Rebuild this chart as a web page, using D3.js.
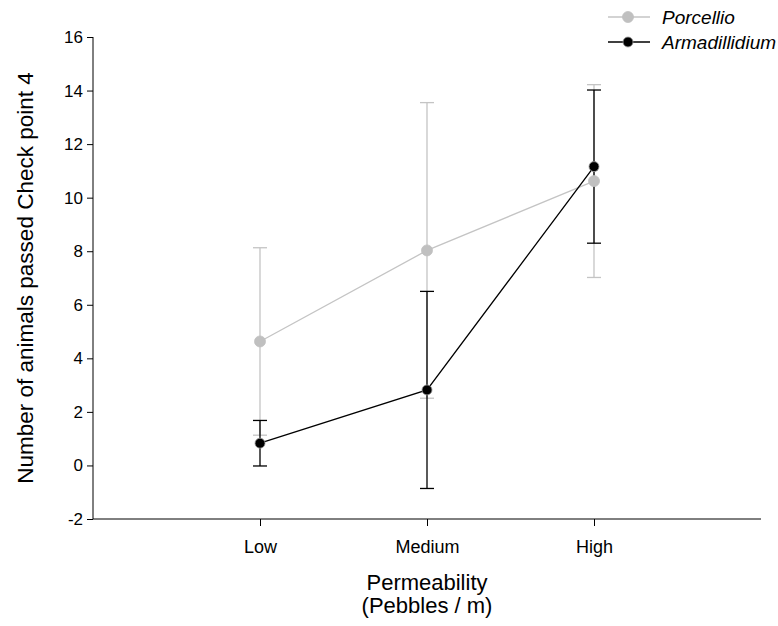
<!DOCTYPE html>
<html><head><meta charset="utf-8">
<script src="https://cdn.jsdelivr.net/npm/d3@7"></script>
<style>body{margin:0;background:#fff;} svg{display:block;} text{font-family:"Liberation Sans",Arial,sans-serif;}</style>
</head><body>
<svg id="c" width="778" height="626"></svg>
<script>
const categories = ["Low", "Medium", "High"];
const yTicks = [-2, 0, 2, 4, 6, 8, 10, 12, 14, 16];
const porcellioMean = [4.63, 8.03, 10.62];
const porcellioErr = [3.5, 5.52, 3.6];
const armadillidiumMean = [0.83, 2.82, 11.16];
const armadillidiumErr = [0.85, 3.68, 2.86];

const series = [
  {name: "Porcellio", mean: porcellioMean, err: porcellioErr, line: "#c4c4c4", fill: "#c0c0c0", stroke: "#c0c0c0", r: 5.5},
  {name: "Armadillidium", mean: armadillidiumMean, err: armadillidiumErr, line: "#000", fill: "#000", stroke: "#9a9a9a", r: 5}
];

const svg = d3.select("#c");
const x = d3.scaleLinear().domain([0, 4]).range([93, 761]);
const y = d3.scaleLinear().domain([-2, 16]).range([519, 37]);

// axes
svg.append("g").attr("transform", "translate(93,0)")
  .call(d3.axisLeft(y).tickValues(yTicks).tickSize(6).tickPadding(4).tickFormat(d => String(d)))
  .call(g => g.select(".domain").attr("d", `M0,${y(16)}V${y(-2)}`))
  .call(g => g.selectAll("text").attr("font-size", 17).attr("fill", "#000"));

svg.append("g").attr("transform", "translate(0,519)")
  .call(d3.axisBottom(x).tickValues([1, 2, 3]).tickSize(7).tickPadding(14).tickFormat(d => categories[d - 1]))
  .call(g => g.select(".domain").attr("d", `M${x(0)},0H${x(4)}`))
  .call(g => g.selectAll("text").attr("font-size", 18).attr("fill", "#000"));

// series error bars
series.forEach(s => {
  const g = svg.append("g");
  const pts = s.mean.map((m, i) => ({xv: i + 1, m, e: s.err[i]}));
  pts.forEach(p => {
    const cx = x(p.xv), y1 = y(p.m + p.e), y2 = y(p.m - p.e);
    g.append("line").attr("x1", cx).attr("x2", cx).attr("y1", y1).attr("y2", y2).attr("stroke", s.line).attr("stroke-width", 1.3);
    [y1, y2].forEach(yy => g.append("line").attr("x1", cx - 7).attr("x2", cx + 7).attr("y1", yy).attr("y2", yy).attr("stroke", s.line).attr("stroke-width", 1.3));
  });
});
// lines and markers
series.forEach(s => {
  const g = svg.append("g");
  const pts = s.mean.map((m, i) => ({xv: i + 1, m}));
  g.append("path").datum(pts)
    .attr("d", d3.line().x(d => x(d.xv)).y(d => y(d.m)))
    .attr("fill", "none").attr("stroke", s.line).attr("stroke-width", 1.3);
  g.selectAll("circle").data(pts).join("circle")
    .attr("cx", d => x(d.xv)).attr("cy", d => y(d.m)).attr("r", s.r)
    .attr("fill", s.fill).attr("stroke", s.stroke).attr("stroke-width", 0.8);
});

// legend
const lg = svg.append("g");
series.forEach((s, i) => {
  const yy = 17 + i * 25;
  lg.append("line").attr("x1", 608).attr("x2", 650).attr("y1", yy).attr("y2", yy).attr("stroke", s.line).attr("stroke-width", 1.3);
  lg.append("circle").attr("cx", 628).attr("cy", yy).attr("r", s.r).attr("fill", s.fill).attr("stroke", s.stroke).attr("stroke-width", 0.8);
  lg.append("text").attr("x", 662).attr("y", yy + 7).attr("font-size", 19).attr("font-style", "italic").text(s.name);
});

// titles
svg.append("text").attr("transform", `translate(33,${(y(16) + y(-2)) / 2}) rotate(-90)`)
  .attr("text-anchor", "middle").attr("font-size", 22.5).text("Number of animals passed Check point 4");
svg.append("text").attr("x", x(2)).attr("y", 590).attr("text-anchor", "middle").attr("font-size", 22).text("Permeability");
svg.append("text").attr("x", x(2)).attr("y", 613).attr("text-anchor", "middle").attr("font-size", 22).text("(Pebbles / m)");
</script>
</body></html>
